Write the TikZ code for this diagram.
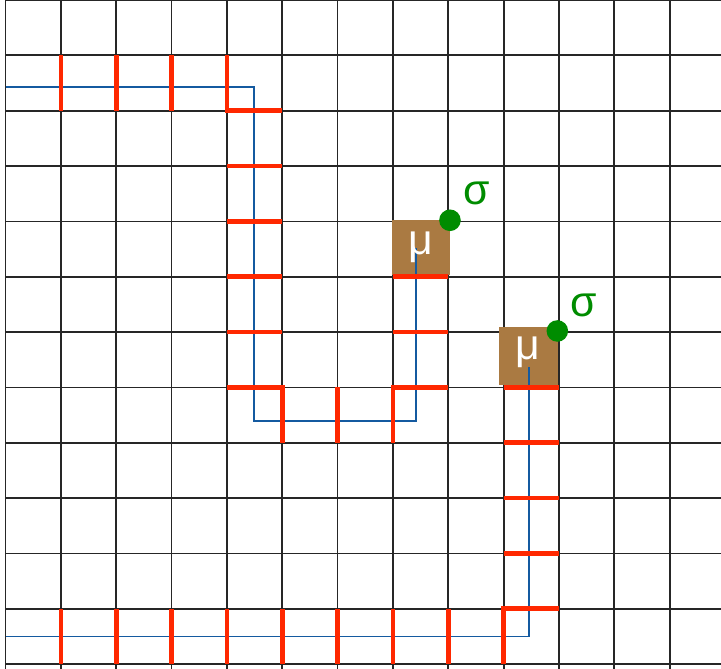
\documentclass[tikz,border=0pt]{standalone}
\usepackage{fontspec}
\setmainfont{Liberation Sans}
\definecolor{wallred}{RGB}{255,40,0}
\definecolor{routeblue}{RGB}{20,90,160}
\definecolor{sigmagreen}{RGB}{0,140,0}
\definecolor{tilebrown}{RGB}{170,122,66}
\begin{document}
\begin{tikzpicture}[x=1cm,y=1cm,
  gridline/.style={draw=black!85,line width=0.9pt},
  wall/.style={draw=wallred,line width=2.4pt},
  route/.style={draw=routeblue,line width=1pt},
  tile/.style={fill=tilebrown,draw=none,inner sep=0},
  gdot/.style={circle,fill=sigmagreen,draw=none,minimum size=0.39cm,inner sep=0},
  mulabel/.style={font=\fontsize{22}{22}\selectfont,text=white,anchor=base,inner sep=0},
  siglabel/.style={font=\fontsize{22}{22}\selectfont,text=sigmagreen,anchor=base,inner sep=0}]
\useasboundingbox (-0.0994,-0.0867) rectangle (12.927,12.0);
% grid
\foreach \i in {0,...,12} \draw[gridline] (\i,-0.0867) -- (\i,12);
\foreach \j in {0,...,12} \draw[gridline] (0,\j) -- (12.927,\j);
% tiles
\node[tile,minimum width=1.053cm,minimum height=1.0cm] (tileA) at (7.503,7.526) {};
\node[tile,minimum width=1.06cm,minimum height=1.054cm] (tileB) at (9.445,5.571) {};
% routes
\coordinate (startA) at (0,10.42);
\coordinate (endA) at (7.42,7.52);
\coordinate (startB) at (0,0.50);
\coordinate (endB) at (9.46,5.375);
\draw[route] (startA) -- (4.49,10.42) -- (4.49,4.40) -- (7.42,4.40) -- (endA);
\draw[route] (startB) -- (9.46,0.50) -- (endB);
% walls
\foreach \x in {1,2,3} \draw[wall] (\x,10) -- (\x,11);
\draw[wall] (4,11) -- (4,10) -- (5,10);
\foreach \y in {6,...,9} \draw[wall] (4,\y) -- (5,\y);
\draw[wall] (4,5) -- (5,5) -- (5,4);
\draw[wall] (6,4) -- (6,5);
\draw[wall] (7,4) -- (7,5) -- (8,5);
\draw[wall] (7,6) -- (8,6);
\draw[wall] (7,7) -- (8,7);
\draw[wall] (9,5) -- (10,5);
\foreach \y in {2,3,4} \draw[wall] (9,\y) -- (10,\y);
\draw[wall] (9,0) -- (9,1) -- (10,1);
\foreach \x in {1,...,8} \draw[wall] (\x,0) -- (\x,1);
% dots and labels
\node[gdot] (dotA) at (8.03,8.02) {};
\node[gdot] (dotB) at (9.97,6.02) {};
\node[mulabel] (muA) at (7.506,7.393) {μ};
\node[mulabel] (muB) at (9.44,5.50) {μ};
\node[siglabel] (sigA) at (8.51,8.296) {σ};
\node[siglabel] (sigB) at (10.44,6.28) {σ};
\end{tikzpicture}
\end{document}
